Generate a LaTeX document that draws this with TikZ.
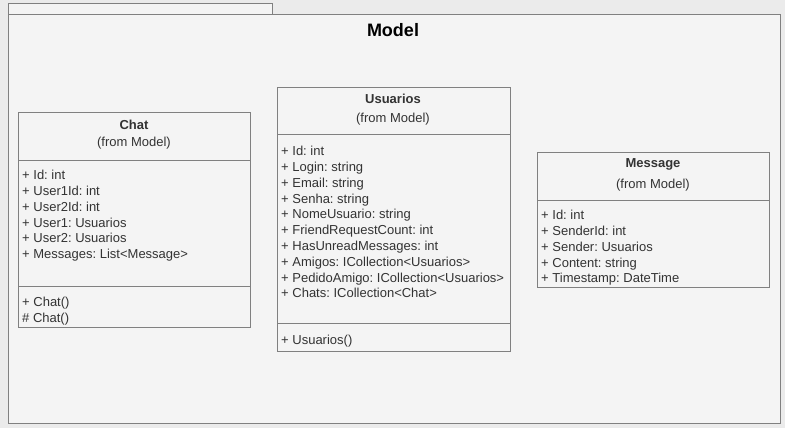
\documentclass[tikz,border=0pt]{standalone}
\usepackage{fontspec}
\setmainfont{Liberation Sans}
\frenchspacing
\definecolor{bgout}{HTML}{EBEBEB}
\definecolor{bgin}{HTML}{F4F4F4}
\definecolor{edge}{HTML}{808080}
\definecolor{txt}{HTML}{333333}
\begin{document}
\begin{tikzpicture}[x=1pt,y=-1pt,
  frame/.style={draw=edge,line width=1pt,fill=bgin},
  cls/.style={draw=edge,line width=0.8pt,fill=bgin},
  ttl/.style={font=\fontsize{13}{15}\selectfont\bfseries,text=txt,inner sep=0pt},
  sub/.style={font=\fontsize{13}{15}\selectfont,text=txt,inner sep=0pt},
  attr/.style={font=\fontsize{13}{15.8}\selectfont,text=txt,inner sep=0pt,anchor=north west,align=left}]
\useasboundingbox (0,0) rectangle (785,428);
\fill[bgout] (0,0) rectangle (785,428);
% package
\draw[frame] (8,4) rectangle (272,15);
\draw[frame] (8,15) rectangle (780,423);
\node[font=\fontsize{18}{20}\selectfont\bfseries,inner sep=0pt] (model) at (393,30.5) {Model};
% Chat
\draw[cls] (18,112) rectangle (250,327);
\draw[cls] (18,160) -- (250,160);
\draw[cls] (18,286) -- (250,286);
\node[ttl] (chat) at (134,124.5) {Chat};
\node[sub] (chatf) at (134,143) {(from Model)};
\node[attr] (chata) at (22,170) {+ Id: int\\+ User1Id: int\\+ User2Id: int\\+ User1: Usuarios\\+ User2: Usuarios\\+ Messages: List<Message>};
\node[attr] (chatm) at (22,297) {+ Chat()\\\# Chat()};
% Usuarios
\draw[cls] (277,87) rectangle (510,351);
\draw[cls] (277,134) -- (510,134);
\draw[cls] (277,323) -- (510,323);
\node[ttl] (usu) at (393,98.5) {Usuarios};
\node[sub] (usuf) at (393,119) {(from Model)};
\node[attr] (usua) at (281,146) {+ Id: int\\+ Login: string\\+ Email: string\\+ Senha: string\\+ NomeUsuario: string\\+ FriendRequestCount: int\\+ HasUnreadMessages: int\\+ Amigos: ICollection<Usuarios>\\+ PedidoAmigo: ICollection<Usuarios>\\+ Chats: ICollection<Chat>};
\node[attr] (usum) at (281,335) {+ Usuarios()};
% Message
\draw[cls] (537,152) rectangle (769,287);
\draw[cls] (537,200) -- (769,200);
\node[ttl] (msg) at (653,164.5) {Message};
\node[sub] (msgf) at (653,185) {(from Model)};
\node[attr] (msga) at (541,210) {+ Id: int\\+ SenderId: int\\+ Sender: Usuarios\\+ Content: string\\+ Timestamp: DateTime};
\end{tikzpicture}
\end{document}
